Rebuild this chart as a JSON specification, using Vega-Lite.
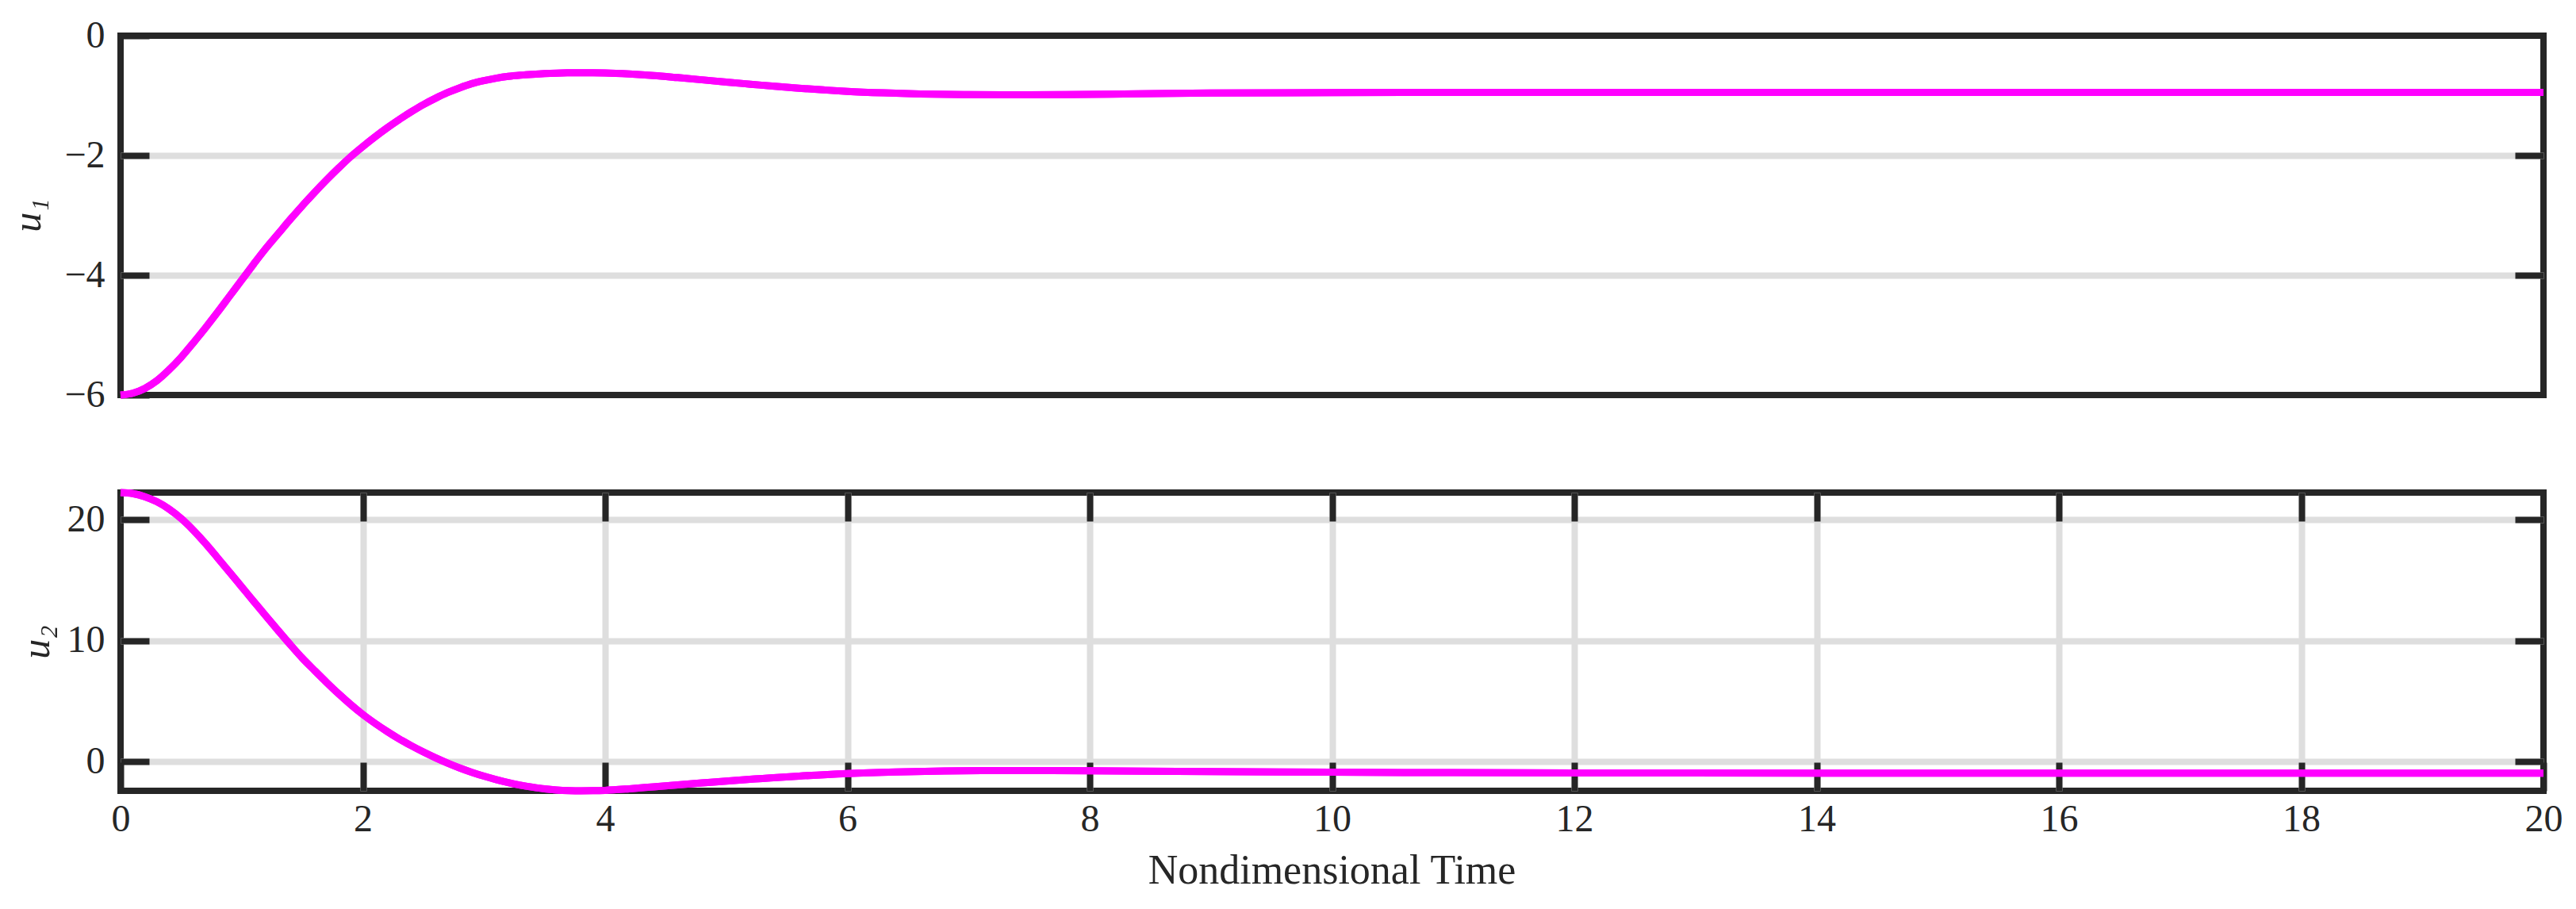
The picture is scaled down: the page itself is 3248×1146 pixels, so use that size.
{
  "$schema": "https://vega.github.io/schema/vega-lite/v6.json",
  "autosize": {"type": "none"},
  "padding": {"left": 152, "top": 45, "right": 3096, "bottom": 1101},
  "background": "white",
  "bounds": "flush",
  "spacing": 123,
  "datasets": {
    "u1": [
      {"t": 0, "v": -6.0}, {"t": 0.1, "v": -5.97}, {"t": 0.2, "v": -5.89}, {"t": 0.3, "v": -5.76},
      {"t": 0.4, "v": -5.58}, {"t": 0.5, "v": -5.37}, {"t": 0.6, "v": -5.13}, {"t": 0.7, "v": -4.88},
      {"t": 0.8, "v": -4.62}, {"t": 0.9, "v": -4.35}, {"t": 1.0, "v": -4.08}, {"t": 1.1, "v": -3.81},
      {"t": 1.2, "v": -3.55}, {"t": 1.3, "v": -3.31}, {"t": 1.4, "v": -3.07}, {"t": 1.5, "v": -2.84},
      {"t": 1.6, "v": -2.62}, {"t": 1.7, "v": -2.41}, {"t": 1.8, "v": -2.21}, {"t": 1.9, "v": -2.02},
      {"t": 2.0, "v": -1.85}, {"t": 2.1, "v": -1.69}, {"t": 2.2, "v": -1.54}, {"t": 2.3, "v": -1.40},
      {"t": 2.4, "v": -1.27}, {"t": 2.5, "v": -1.15}, {"t": 2.6, "v": -1.045}, {"t": 2.7, "v": -0.95},
      {"t": 2.8, "v": -0.87}, {"t": 2.9, "v": -0.80}, {"t": 3.0, "v": -0.75}, {"t": 3.1, "v": -0.71},
      {"t": 3.2, "v": -0.68}, {"t": 3.3, "v": -0.66}, {"t": 3.4, "v": -0.645}, {"t": 3.5, "v": -0.633},
      {"t": 3.6, "v": -0.625}, {"t": 3.7, "v": -0.62}, {"t": 3.8, "v": -0.618}, {"t": 3.9, "v": -0.619},
      {"t": 4.0, "v": -0.623}, {"t": 4.2, "v": -0.64},
      {"t": 4.4, "v": -0.665}, {"t": 4.6, "v": -0.70}, {"t": 4.8, "v": -0.737}, {"t": 5.0, "v": -0.775},
      {"t": 5.2, "v": -0.81}, {"t": 5.4, "v": -0.845}, {"t": 5.6, "v": -0.877}, {"t": 5.8, "v": -0.905},
      {"t": 6.0, "v": -0.93}, {"t": 6.3, "v": -0.955}, {"t": 6.6, "v": -0.972}, {"t": 7.0, "v": -0.984},
      {"t": 7.4, "v": -0.988}, {"t": 7.8, "v": -0.983}, {"t": 8.4, "v": -0.97}, {"t": 9.0, "v": -0.958},
      {"t": 10, "v": -0.95}, {"t": 11, "v": -0.946}, {"t": 12, "v": -0.946}, {"t": 14, "v": -0.948},
      {"t": 16, "v": -0.948}, {"t": 18, "v": -0.948}, {"t": 20, "v": -0.948}
    ],
    "u2": [
      {"t": 0, "v": 22.24}, {"t": 0.1, "v": 22.16}, {"t": 0.2, "v": 21.9}, {"t": 0.3, "v": 21.48},
      {"t": 0.4, "v": 20.88}, {"t": 0.5, "v": 20.1}, {"t": 0.6, "v": 19.14}, {"t": 0.7, "v": 18.04},
      {"t": 0.8, "v": 16.86}, {"t": 0.9, "v": 15.66}, {"t": 1.0, "v": 14.45}, {"t": 1.1, "v": 13.24},
      {"t": 1.2, "v": 12.04}, {"t": 1.3, "v": 10.85}, {"t": 1.4, "v": 9.68}, {"t": 1.5, "v": 8.56},
      {"t": 1.6, "v": 7.55}, {"t": 1.7, "v": 6.56}, {"t": 1.8, "v": 5.61}, {"t": 1.9, "v": 4.72},
      {"t": 2.0, "v": 3.9}, {"t": 2.1, "v": 3.17}, {"t": 2.2, "v": 2.5}, {"t": 2.3, "v": 1.88},
      {"t": 2.4, "v": 1.32}, {"t": 2.5, "v": 0.8}, {"t": 2.6, "v": 0.32}, {"t": 2.7, "v": -0.12},
      {"t": 2.8, "v": -0.52}, {"t": 2.9, "v": -0.88}, {"t": 3.0, "v": -1.2}, {"t": 3.1, "v": -1.48},
      {"t": 3.2, "v": -1.73}, {"t": 3.3, "v": -1.94}, {"t": 3.4, "v": -2.11}, {"t": 3.5, "v": -2.25},
      {"t": 3.6, "v": -2.34}, {"t": 3.7, "v": -2.39}, {"t": 3.8, "v": -2.41}, {"t": 3.9, "v": -2.40},
      {"t": 4.0, "v": -2.37}, {"t": 4.2, "v": -2.24}, {"t": 4.4, "v": -2.08}, {"t": 4.6, "v": -1.92},
      {"t": 4.8, "v": -1.76}, {"t": 5.0, "v": -1.6}, {"t": 5.3, "v": -1.39}, {"t": 5.6, "v": -1.19},
      {"t": 6.0, "v": -0.98}, {"t": 6.4, "v": -0.85}, {"t": 6.8, "v": -0.77}, {"t": 7.2, "v": -0.74},
      {"t": 7.6, "v": -0.74}, {"t": 8.0, "v": -0.76}, {"t": 9, "v": -0.82}, {"t": 10, "v": -0.87},
      {"t": 11, "v": -0.91}, {"t": 12, "v": -0.93}, {"t": 14, "v": -0.945}, {"t": 16, "v": -0.95},
      {"t": 18, "v": -0.95}, {"t": 20, "v": -0.95}
    ]
  },
  "config": {
    "font": "Liberation Serif",
    "view": {"stroke": "#262626", "strokeWidth": 8},
    "axis": {
      "domain": false,
      "tickColor": "#262626",
      "tickWidth": 8,
      "tickSize": -36,
      "tickCap": "butt",
      "gridColor": "#dedede",
      "gridWidth": 8,
      "gridOpacity": 1,
      "labelFont": "Liberation Serif",
      "labelFontSize": 48,
      "labelColor": "#262626",
      "labelFlush": false,
      "labelOverlap": false,
      "titleFont": "Liberation Serif",
      "titleColor": "#262626",
      "titleFontWeight": "normal"
    }
  },
  "vconcat": [
    {
      "width": 3055,
      "height": 453,
      "data": {"name": "u1"},
      "layer": [
        {
          "mark": {"type": "line", "color": "#ff00ff", "strokeWidth": 9, "interpolate": "monotone", "clip": false},
          "encoding": {
            "x": {"field": "t", "type": "quantitative", "scale": {"domain": [0, 20], "nice": false, "zero": false}, "axis": null},
            "y": {"field": "v", "type": "quantitative", "scale": {"domain": [-6, 0], "nice": false, "zero": false},
              "axis": {"orient": "left", "values": [-6, -4, -2, 0], "format": "d", "grid": false, "labelPadding": 56,
                "labelFont": "Liberation Serif",
                "title": "u₁", "titleFont": "Liberation Serif", "titleFontStyle": "italic", "titleFontSize": 50, "titleAngle": -90,
                "titleBaseline": "middle", "titleAlign": "center", "titleX": -117, "titleY": 226}}
          }
        },
        {
          "mark": {"type": "line", "color": "#ff00ff", "strokeWidth": 9, "interpolate": "monotone", "clip": false},
          "encoding": {
            "x": {"field": "t", "type": "quantitative", "scale": {"domain": [0, 20], "nice": false, "zero": false}, "axis": null},
            "y": {"field": "v", "type": "quantitative", "scale": {"domain": [-6, 0], "nice": false, "zero": false},
              "axis": {"orient": "right", "values": [-4, -2], "grid": true, "labels": false, "title": null}}
          }
        }
      ],
      "resolve": {"axis": {"y": "independent"}}
    },
    {
      "width": 3055,
      "height": 376,
      "data": {"name": "u2"},
      "layer": [
        {
          "mark": {"type": "line", "color": "#ff00ff", "strokeWidth": 9, "interpolate": "monotone", "clip": false},
          "encoding": {
            "x": {"field": "t", "type": "quantitative", "scale": {"domain": [0, 20], "nice": false, "zero": false},
              "axis": {"orient": "bottom", "values": [0, 2, 4, 6, 8, 10, 12, 14, 16, 18, 20], "format": "d", "grid": false,
                "labelPadding": 48, "labelFont": "Liberation Serif", "labelFlush": false,
                "title": "Nondimensional Time", "titleFont": "Liberation Serif", "titleFontSize": 52,
                "titleBaseline": "alphabetic", "titleY": 116, "titleX": 1527}},
            "y": {"field": "v", "type": "quantitative", "scale": {"domain": [-2.41, 22.24], "nice": false, "zero": false},
              "axis": {"orient": "left", "values": [0, 10, 20], "format": "d", "grid": true, "labelPadding": 56,
                "labelFont": "Liberation Serif",
                "title": "u₂", "titleFont": "Liberation Serif", "titleFontStyle": "italic", "titleFontSize": 50, "titleAngle": -90,
                "titleBaseline": "middle", "titleAlign": "center", "titleX": -106, "titleY": 188}}
          }
        },
        {
          "mark": {"type": "line", "color": "#ff00ff", "strokeWidth": 9, "interpolate": "monotone", "clip": false},
          "encoding": {
            "x": {"field": "t", "type": "quantitative", "scale": {"domain": [0, 20], "nice": false, "zero": false},
              "axis": {"orient": "top", "values": [2, 4, 6, 8, 10, 12, 14, 16, 18], "grid": true, "labels": false, "title": null}},
            "y": {"field": "v", "type": "quantitative", "scale": {"domain": [-2.41, 22.24], "nice": false, "zero": false},
              "axis": {"orient": "right", "values": [0, 10, 20], "grid": false, "labels": false, "title": null}}
          }
        }
      ],
      "resolve": {"axis": {"x": "independent", "y": "independent"}}
    }
  ]
}
